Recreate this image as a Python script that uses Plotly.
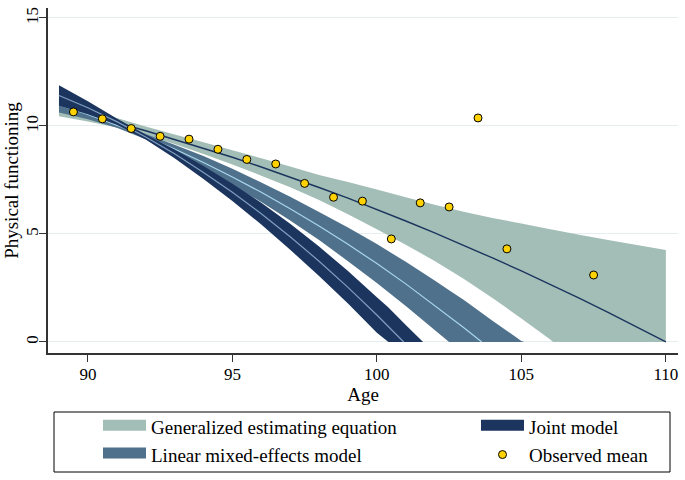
import plotly.graph_objects as go

# ---------------- data ----------------
GEE_AGE = [89, 90, 91, 92, 93, 94, 95, 96, 97, 98, 99, 100, 101, 102, 103, 104, 105, 106, 106.1, 107, 108, 109, 110]
GEE_FIT = [10.85, 10.51, 10.15, 9.78, 9.38, 8.97, 8.55, 8.10, 7.64, 7.15, 6.66, 6.14, 5.60, 5.05, 4.48, 3.89, 3.29, 2.67, 2.61, 2.03, 1.37, 0.69, 0.0]
GEE_UP = [11.25, 10.81, 10.37, 9.98, 9.60, 9.24, 8.88, 8.50, 8.12, 7.73, 7.41, 7.06, 6.70, 6.35, 6.03, 5.74, 5.49, 5.22, 5.20, 4.96, 4.72, 4.49, 4.26]
GEE_LO = [10.45, 10.21, 9.93, 9.58, 9.16, 8.70, 8.22, 7.70, 7.16, 6.57, 5.91, 5.22, 4.50, 3.75, 2.93, 2.04, 1.09, 0.12, 0.0, 0.0, 0.0, 0.0, 0.0]

LME_AGE = [89, 90, 91, 92, 93, 94, 95, 96, 97, 98, 99, 100, 101, 102, 102.5, 103, 104, 105, 105.1]
LME_UP = [11.32, 10.75, 10.16, 9.63, 9.13, 8.61, 8.02, 7.38, 6.72, 6.02, 5.30, 4.53, 3.71, 2.85, 2.40, 1.95, 0.98, 0.05, 0.0]
LME_LO = [10.62, 10.31, 9.92, 9.39, 8.73, 8.01, 7.26, 6.48, 5.62, 4.72, 3.74, 2.73, 1.67, 0.55, 0.0, 0.0, 0.0, 0.0, 0.0]
LME_FIT_AGE = [89, 90, 91, 92, 93, 94, 95, 96, 97, 98, 99, 100, 101, 102, 103, 103.63]
LME_FIT = [10.97, 10.53, 10.04, 9.51, 8.93, 8.31, 7.64, 6.93, 6.17, 5.37, 4.52, 3.63, 2.69, 1.70, 0.67, 0.0]

JM_AGE = [89, 90, 91, 92, 93, 94, 95, 96, 97, 98, 99, 100, 100.4, 101, 101.6]
JM_UP = [11.88, 11.14, 10.35, 9.61, 8.91, 8.15, 7.33, 6.44, 5.47, 4.42, 3.28, 2.07, 1.60, 0.79, 0.0]
JM_LO = [10.94, 10.54, 10.05, 9.37, 8.51, 7.55, 6.53, 5.44, 4.27, 3.06, 1.78, 0.43, 0.0, 0.0, 0.0]
JM_FIT_AGE = [89, 90, 91, 92, 93, 94, 95, 96, 97, 98, 99, 100, 100.93]
JM_FIT = [11.41, 10.84, 10.20, 9.49, 8.71, 7.85, 6.93, 5.94, 4.87, 3.74, 2.53, 1.25, 0.0]

OBS_AGE = [89.5, 90.5, 91.5, 92.5, 93.5, 94.5, 95.5, 96.5, 97.5, 98.5, 99.5, 100.5, 101.5, 102.5, 103.5, 104.5, 107.5]
OBS_MEAN = [10.65, 10.33, 9.88, 9.52, 9.39, 8.92, 8.45, 8.24, 7.34, 6.70, 6.52, 4.77, 6.44, 6.25, 10.37, 4.31, 3.10]

X_TICKS = [90, 95, 100, 105, 110]
Y_TICKS = [0, 5, 10, 15]

# ---------------- style ----------------
C_GEE = "#a3beb6"
C_LME = "#4f718b"
C_JM = "#1c355e"
C_LME_LINE = "#a9d6ee"
C_JM_LINE = "#7f9fc0"
C_GEE_LINE = "#1c355e"
FONT = "Liberation Serif"


def band(ages, up, lo):
    return list(ages) + list(ages)[::-1], list(up) + list(lo)[::-1]


def legend_swatch(name, color, legend, rank):
    # legend-only entry: a filled swatch with a thick outline of the same colour
    return go.Scatter(x=[None], y=[None], mode="lines", fill="toself", fillcolor=color,
                      line=dict(color=color, width=10), name=name, legend=legend,
                      legendrank=rank, hoverinfo="skip")


fig = go.Figure()

x, y = band(GEE_AGE, GEE_UP, GEE_LO)
fig.add_trace(go.Scatter(x=x, y=y, fill="toself", fillcolor=C_GEE, mode="none",
                         showlegend=False, hoverinfo="skip"))
fig.add_trace(go.Scatter(x=GEE_AGE, y=GEE_FIT, mode="lines", line=dict(color=C_GEE_LINE, width=1.4),
                         showlegend=False, hoverinfo="skip"))

x, y = band(LME_AGE, LME_UP, LME_LO)
fig.add_trace(go.Scatter(x=x, y=y, fill="toself", fillcolor=C_LME, mode="none",
                         showlegend=False, hoverinfo="skip"))
fig.add_trace(go.Scatter(x=LME_FIT_AGE, y=LME_FIT, mode="lines", line=dict(color=C_LME_LINE, width=1.2),
                         showlegend=False, hoverinfo="skip"))

x, y = band(JM_AGE, JM_UP, JM_LO)
fig.add_trace(go.Scatter(x=x, y=y, fill="toself", fillcolor=C_JM, mode="none",
                         showlegend=False, hoverinfo="skip"))
fig.add_trace(go.Scatter(x=JM_FIT_AGE, y=JM_FIT, mode="lines", line=dict(color=C_JM_LINE, width=1.2),
                         showlegend=False, hoverinfo="skip"))

fig.add_trace(go.Scatter(x=OBS_AGE, y=OBS_MEAN, mode="markers", name="Observed mean",
                         marker=dict(color="#ffd200", size=8, line=dict(color="black", width=1)),
                         legend="legend2", legendrank=2))

fig.add_trace(legend_swatch("Generalized estimating equation", C_GEE, "legend", 1))
fig.add_trace(legend_swatch("Linear mixed-effects model", C_LME, "legend", 2))
fig.add_trace(legend_swatch("Joint model", C_JM, "legend2", 1))

LEG_COMMON = dict(
    orientation="v", yanchor="top", xanchor="left",
    borderwidth=0, bgcolor="rgba(0,0,0,0)",
    font=dict(family=FONT, size=19, color="black"),
    itemwidth=43, traceorder="normal", tracegroupgap=0,
)

fig.update_layout(
    width=685, height=480,
    margin=dict(l=48, r=7, t=8, b=127, autoexpand=False),
    paper_bgcolor="white", plot_bgcolor="white",
    font=dict(family=FONT, size=17, color="black"),
    showlegend=True,
    legend=dict(x=(98 - 48) / 630, y=(353 - 408) / 345, **LEG_COMMON),
    legend2=dict(x=(476 - 48) / 630, y=(353 - 408) / 345, **LEG_COMMON),
    xaxis=dict(
        range=[88.62, 110.42], tickvals=X_TICKS, ticks="outside", ticklen=7, tickwidth=1.2,
        tickcolor="#333333", showline=True, linecolor="#333333", linewidth=1.5,
        showgrid=False, zeroline=False, ticklabelstandoff=-2,
        title=dict(text="Age", font=dict(size=19), standoff=0),
        tickfont=dict(size=17),
    ),
    yaxis=dict(
        range=[-0.51, 15.46], tickvals=Y_TICKS, ticks="outside", ticklen=7, tickwidth=1.2,
        tickcolor="#333333", showline=True, linecolor="#333333", linewidth=1.5,
        showgrid=True, gridcolor="#e4eeee", gridwidth=1, zeroline=False,
        tickangle=-90, ticklabelstandoff=-6,
        title=dict(text="Physical functioning", font=dict(size=19), standoff=0),
        tickfont=dict(size=17),
    ),
    shapes=[dict(type="rect", xref="paper", yref="paper",
                 x0=6 / 630, x1=622 / 630, y0=(353 - 472) / 345, y1=(353 - 412) / 345,
                 line=dict(color="black", width=1), fillcolor="rgba(0,0,0,0)", layer="below")],
)

fig.write_html("out.html", config={"displayModeBar": False},
               post_script="document.body.style.margin='0';document.body.style.overflow='hidden';")
